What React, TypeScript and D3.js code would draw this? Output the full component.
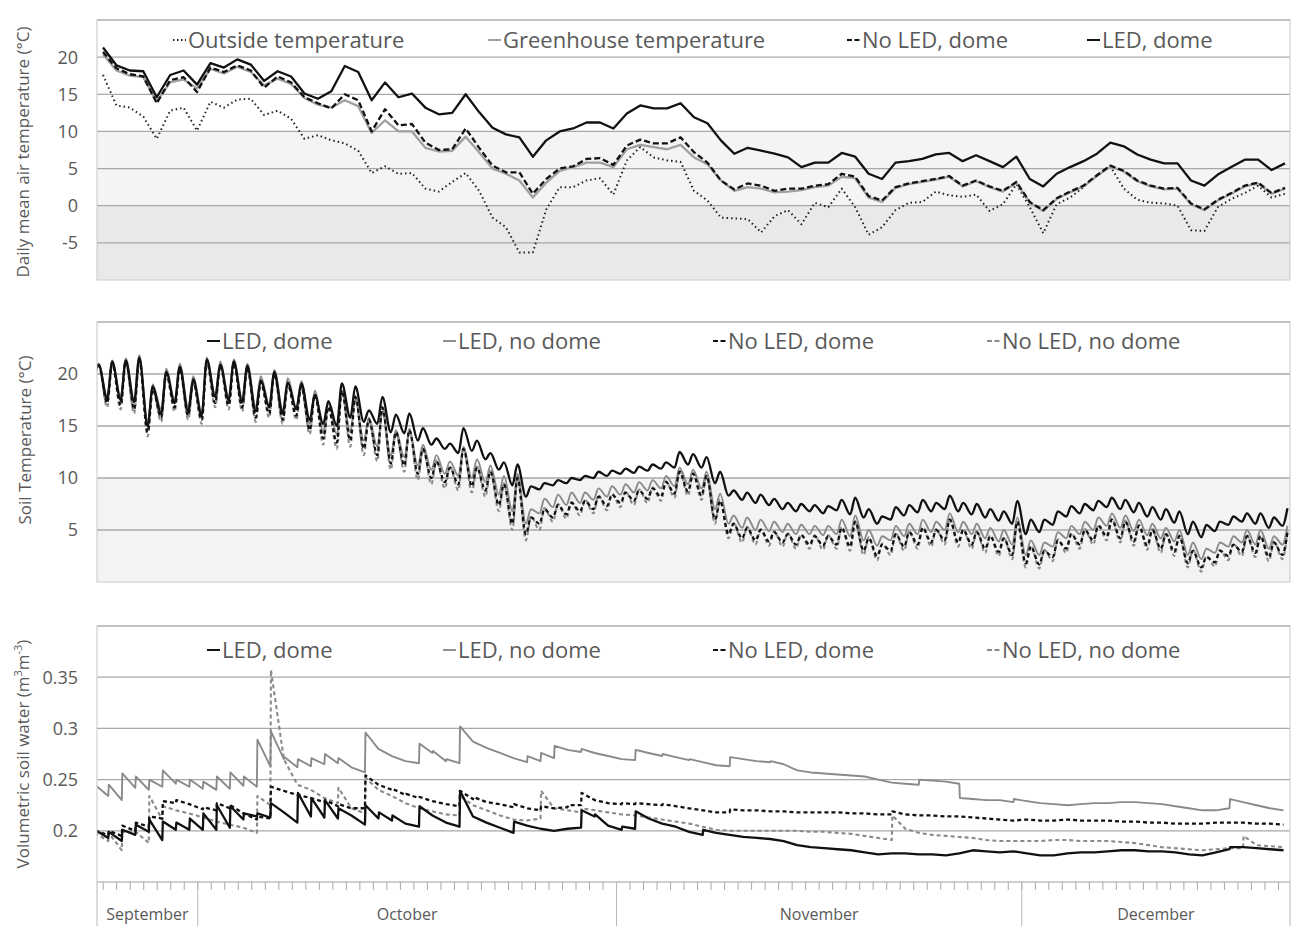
import * as d3 from "d3";

// layout
const W = 1291;
const H = 926;
const LEFT = 97;
const RIGHT = 1290;
const AIR = { top: 20, bottom: 280 };
const SOIL = { top: 322, bottom: 582 };
const WATER = { top: 626, bottom: 882 };

const FONT = "'Open Sans', 'Noto Sans', sans-serif";
const TEXT = "#595959";
const GRID = "#a8a8a8";
const FRAME = "#c8c8c8";

// ---------- data ----------
const monthNames = ["September", "October", "November", "December"];
const airTicks = [20, 15, 10, 5, 0, -5];
const soilTicks = [20, 15, 10, 5];
const waterTicks = [0.35, 0.3, 0.25, 0.2];

// daily mean air temperature, 24 Sep .. 21 Dec
const outsideTemp = [
  17.6, 13.5, 13.2, 12.0, 9.0, 12.8, 13.2, 10.1, 14.0, 13.2, 14.3, 14.4, 12.2, 12.8, 11.7, 9.0, 9.5, 8.8, 8.4, 7.4,
  4.4, 5.3, 4.3, 4.4, 2.3, 1.9, 3.2, 4.4, 2.0, -1.6, -2.9, -6.3, -6.3, -0.5, 2.5, 2.5, 3.4, 3.7, 1.5, 6.1,
  7.9, 6.5, 6.1, 5.9, 2.0, 0.7, -1.6, -1.7, -1.8, -3.6, -1.4, -0.6, -2.5, 0.4, -0.2, 2.3, -0.2, -3.9, -2.9, -0.6,
  0.4, 0.5, 1.9, 1.4, 1.2, 1.5, -0.7, 0.2, 2.9, -0.2, -3.7, 0.2, 1.1, 2.5, 4.1, 5.3, 2.3, 0.8, 0.4, 0.3,
  0.0, -3.3, -3.4, -0.2, 0.9, 1.7, 2.7, 1.1, 1.6,
];
const greenhouseTemp = [
  20.4, 18.2, 17.5, 17.3, 14.0, 16.6, 17.0, 15.8, 18.4, 17.8, 18.7, 18.0, 16.2, 17.1, 16.4, 14.5, 13.6, 13.2, 14.2, 13.4,
  9.8, 11.5, 10.0, 10.0, 7.8, 7.3, 7.4, 9.3, 7.2, 5.0, 4.3, 3.4, 1.1, 3.1, 4.7, 5.2, 5.8, 5.8, 5.2, 7.6,
  8.2, 7.9, 7.6, 8.2, 6.5, 5.6, 3.4, 2.0, 2.5, 2.3, 1.8, 1.9, 2.1, 2.5, 2.7, 3.9, 3.7, 1.1, 0.5, 2.4,
  2.9, 3.2, 3.5, 3.9, 2.6, 3.3, 2.5, 1.9, 3.1, 0.4, -0.7, 0.9, 1.8, 2.6, 4.0, 5.3, 4.6, 3.3, 2.6, 2.2,
  2.3, 0.2, -0.6, 0.7, 1.6, 2.6, 3.0, 1.6, 2.3,
];
const noLedDomeAir = [
  20.7, 18.5, 17.7, 17.4, 13.8, 16.9, 17.3, 15.3, 18.6, 18.0, 18.9, 18.2, 15.9, 17.4, 16.6, 14.6, 13.8, 13.1, 15.0, 14.2,
  10.0, 13.0, 10.8, 11.0, 8.5, 7.5, 7.6, 10.4, 7.8, 5.4, 4.5, 4.5, 1.6, 3.6, 5.0, 5.3, 6.3, 6.4, 5.5, 8.1,
  8.9, 8.4, 8.4, 9.2, 7.2, 5.8, 3.4, 2.2, 3.0, 2.7, 2.0, 2.3, 2.3, 2.7, 2.9, 4.3, 3.9, 1.3, 0.7, 2.5,
  3.0, 3.3, 3.6, 4.0, 2.7, 3.4, 2.6, 2.0, 3.2, 0.5, -0.6, 1.0, 1.9, 2.7, 4.1, 5.4, 4.7, 3.4, 2.7, 2.3,
  2.4, 0.3, -0.5, 0.8, 1.7, 2.7, 3.1, 1.7, 2.4,
];
const ledDomeAir = [
  21.3, 18.9, 18.2, 18.1, 14.6, 17.6, 18.2, 16.3, 19.2, 18.6, 19.7, 19.0, 16.8, 18.1, 17.4, 15.1, 14.4, 15.4, 18.8, 18.0,
  14.2, 16.6, 14.6, 15.1, 13.2, 12.3, 12.5, 15.0, 12.6, 10.5, 9.6, 9.2, 6.6, 8.8, 10.0, 10.4, 11.2, 11.2, 10.4, 12.4,
  13.5, 13.1, 13.1, 13.8, 11.9, 11.1, 8.8, 7.0, 7.8, 7.4, 7.0, 6.5, 5.2, 5.8, 5.8, 7.1, 6.6, 4.3, 3.6, 5.8,
  6.0, 6.3, 6.9, 7.1, 6.0, 6.8, 6.0, 5.2, 6.6, 3.6, 2.6, 4.3, 5.2, 6.0, 7.0, 8.5, 8.0, 6.9, 6.2, 5.7,
  5.7, 3.4, 2.7, 4.2, 5.2, 6.2, 6.2, 4.8, 5.7,
];

// soil temperature, daily min (morning) and max (afternoon), 23 Sep .. 20 Dec
const ledDomeMax = [
  20.9, 21.2, 21.3, 21.6, 18.8, 20.2, 20.7, 19.5, 21.4, 20.9, 21.2, 20.8, 19.4, 20.2, 19.2, 19.1, 18.0, 17.4, 19.1, 18.8,
  16.5, 17.8, 16.1, 16.2, 14.8, 13.8, 13.3, 14.8, 13.6, 12.4, 11.5, 11.3, 9.2, 9.5, 9.8, 10.0, 10.2, 10.6, 10.7, 10.9,
  11.1, 11.3, 11.5, 12.5, 12.3, 12.0, 10.6, 8.8, 8.6, 8.4, 8.0, 7.6, 7.5, 7.4, 7.3, 7.9, 8.1, 7.0, 6.3, 7.2,
  7.4, 7.9, 7.6, 8.3, 7.6, 7.5, 7.0, 6.8, 7.8, 6.0, 6.0, 6.8, 7.3, 7.5, 7.8, 8.1, 7.9, 7.6, 7.2, 7.0,
  6.8, 5.8, 5.5, 5.8, 6.3, 6.6, 6.6, 6.2, 7.1,
];
const ledDomeMin = [
  19.5, 17.6, 17.5, 17.3, 15.0, 16.2, 17.2, 16.4, 16.0, 17.8, 17.5, 17.3, 16.4, 16.8, 16.2, 16.6, 15.6, 15.2, 15.0, 15.8,
  15.4, 15.2, 14.4, 14.3, 13.6, 13.2, 12.8, 12.4, 12.6, 11.8, 10.8, 9.3, 8.2, 8.9, 9.3, 9.5, 9.8, 10.0, 10.2, 10.4,
  10.5, 10.7, 10.9, 11.0, 11.3, 11.0, 9.5, 8.3, 7.9, 7.6, 7.4, 7.0, 6.8, 6.8, 6.6, 6.9, 6.5, 6.2, 5.6, 6.0,
  6.4, 6.7, 6.8, 7.0, 6.8, 6.5, 6.2, 5.9, 5.6, 4.6, 4.8, 5.5, 6.3, 6.6, 6.9, 7.2, 7.0, 6.7, 6.3, 6.0,
  5.7, 4.6, 4.3, 4.9, 5.5, 5.8, 5.6, 5.2, 5.4,
];
const ledNoDomeMax = [
  21.0, 21.3, 21.5, 21.8, 19.0, 20.5, 21.0, 19.8, 21.6, 21.2, 21.4, 21.0, 19.8, 20.4, 19.6, 19.3, 18.4, 17.2, 18.2, 17.6,
  15.8, 16.4, 14.6, 14.6, 13.2, 12.2, 11.6, 13.0, 11.8, 11.2, 10.2, 10.4, 7.0, 8.0, 8.4, 8.6, 8.6, 9.0, 9.2, 9.4,
  9.6, 9.8, 10.2, 11.0, 10.8, 10.6, 8.5, 6.4, 6.2, 6.0, 5.8, 5.6, 5.5, 5.4, 5.4, 6.0, 6.4, 5.0, 4.4, 5.4,
  5.6, 6.0, 5.8, 6.6, 5.8, 5.6, 5.2, 5.0, 6.2, 4.0, 3.8, 4.8, 5.4, 5.8, 6.2, 6.6, 6.4, 6.0, 5.6, 5.2,
  5.0, 3.8, 3.2, 3.8, 4.4, 5.0, 5.0, 4.4, 5.4,
];
const ledNoDomeMin = [
  19.6, 17.8, 17.8, 17.5, 15.4, 16.6, 17.5, 16.8, 16.3, 18.0, 17.8, 17.6, 16.8, 17.0, 16.5, 16.8, 15.2, 14.4, 14.2, 14.4,
  13.6, 13.0, 12.2, 12.0, 11.2, 10.8, 10.4, 10.2, 10.0, 9.6, 8.4, 6.8, 5.6, 6.6, 7.2, 7.4, 7.6, 7.9, 8.2, 8.4,
  8.6, 8.8, 9.0, 9.2, 9.4, 9.0, 7.0, 5.6, 5.2, 5.0, 4.9, 4.8, 4.6, 4.6, 4.5, 4.6, 4.4, 4.0, 3.5, 4.0,
  4.4, 4.6, 4.8, 5.0, 4.8, 4.6, 4.2, 3.9, 3.6, 2.6, 2.6, 3.4, 4.2, 4.6, 5.0, 5.4, 5.2, 4.9, 4.5, 4.2,
  3.9, 2.6, 2.2, 2.8, 3.4, 3.8, 3.6, 3.2, 3.6,
];
const noLedDomeMax = [
  20.8, 21.0, 21.2, 21.4, 18.5, 20.0, 20.5, 19.2, 21.2, 20.8, 21.0, 20.6, 19.2, 20.0, 19.0, 18.8, 18.0, 16.8, 18.4, 17.8,
  15.6, 16.8, 14.4, 14.6, 12.8, 11.6, 11.0, 12.8, 11.0, 10.6, 9.4, 10.0, 6.2, 7.0, 7.4, 7.6, 7.8, 8.2, 8.4, 8.6,
  8.8, 9.0, 9.6, 10.6, 10.4, 10.2, 7.8, 5.6, 5.2, 5.0, 4.8, 4.6, 4.5, 4.4, 4.4, 5.2, 5.8, 4.2, 3.6, 4.6,
  4.8, 5.2, 5.0, 6.0, 5.0, 4.8, 4.4, 4.2, 5.8, 3.4, 3.0, 4.0, 4.6, 5.0, 5.4, 6.0, 5.8, 5.4, 5.0, 4.6,
  4.4, 3.0, 2.4, 3.0, 3.6, 4.4, 4.4, 3.8, 4.8,
];
const noLedDomeMin = [
  19.4, 17.2, 17.0, 16.6, 14.4, 15.8, 16.8, 16.0, 15.6, 17.2, 17.0, 16.8, 15.8, 16.2, 15.6, 16.0, 14.6, 13.8, 13.4, 13.6,
  12.8, 12.2, 11.4, 11.2, 10.4, 10.0, 9.6, 9.4, 9.2, 8.8, 7.4, 5.6, 4.6, 5.6, 6.2, 6.5, 6.8, 7.0, 7.3, 7.6,
  7.8, 8.0, 8.2, 8.5, 8.7, 8.3, 6.0, 4.6, 4.2, 4.0, 3.9, 3.8, 3.6, 3.6, 3.5, 3.6, 3.4, 3.0, 2.5, 3.0,
  3.4, 3.6, 3.8, 4.0, 3.8, 3.6, 3.2, 2.9, 2.6, 1.8, 1.7, 2.4, 3.2, 3.6, 4.0, 4.4, 4.2, 3.9, 3.5, 3.2,
  2.9, 1.8, 1.4, 1.9, 2.5, 2.9, 2.8, 2.4, 2.6,
];
const noLedNoDomeMax = [
  20.9, 21.1, 21.3, 21.5, 18.6, 20.1, 20.6, 19.3, 21.3, 20.9, 21.1, 20.7, 19.3, 20.1, 19.1, 18.9, 18.1, 16.9, 18.6, 17.9,
  15.7, 16.9, 14.5, 14.7, 12.9, 11.7, 11.1, 12.9, 11.1, 10.7, 9.5, 10.1, 6.3, 7.1, 7.5, 7.7, 7.9, 8.3, 8.5, 8.7,
  8.9, 9.1, 9.7, 10.7, 10.5, 10.3, 7.9, 5.7, 5.3, 5.1, 4.9, 4.7, 4.6, 4.5, 4.5, 5.3, 5.9, 4.3, 3.7, 4.7,
  4.9, 5.3, 5.1, 6.1, 5.1, 4.9, 4.5, 4.3, 5.9, 3.5, 3.1, 4.1, 4.7, 5.1, 5.5, 6.1, 5.9, 5.5, 5.1, 4.7,
  4.5, 3.1, 2.5, 3.1, 3.7, 4.5, 4.5, 3.9, 4.9,
];
const noLedNoDomeMin = [
  19.2, 16.8, 16.6, 16.2, 14.0, 15.4, 16.4, 15.6, 15.2, 16.8, 16.6, 16.4, 15.4, 15.8, 15.2, 15.6, 14.2, 13.2, 12.8, 13.0,
  12.2, 11.6, 10.8, 10.6, 9.8, 9.4, 9.0, 8.8, 8.6, 8.2, 6.8, 5.0, 4.0, 5.0, 5.8, 6.1, 6.4, 6.6, 6.9, 7.2,
  7.4, 7.6, 7.8, 8.1, 8.3, 7.9, 5.6, 4.2, 3.8, 3.6, 3.5, 3.4, 3.2, 3.2, 3.1, 3.2, 3.0, 2.6, 2.1, 2.6,
  3.0, 3.2, 3.4, 3.6, 3.4, 3.2, 2.8, 2.5, 2.2, 1.4, 1.3, 2.0, 2.8, 3.2, 3.6, 4.0, 3.8, 3.5, 3.1, 2.8,
  2.5, 1.4, 1.0, 1.5, 2.1, 2.5, 2.4, 2.0, 2.2,
];

// volumetric soil water: morning level each day (23 Sep .. 20 Dec) and [day, level after watering]
const ledDomeWater = [
  0.201, 0.193, 0.19, 0.196, 0.199, 0.191, 0.201, 0.201, 0.201, 0.201, 0.203, 0.211, 0.214, 0.213, 0.218, 0.208, 0.214, 0.213, 0.212, 0.215,
  0.206, 0.212, 0.21, 0.207, 0.204, 0.215, 0.208, 0.204, 0.214, 0.208, 0.203, 0.198, 0.205, 0.202, 0.2, 0.202, 0.203, 0.214, 0.205, 0.201,
  0.202, 0.212, 0.207, 0.204, 0.199, 0.196, 0.198, 0.196, 0.194, 0.193, 0.192, 0.19, 0.186, 0.184, 0.183, 0.182, 0.181, 0.179, 0.177, 0.178,
  0.178, 0.177, 0.177, 0.176, 0.178, 0.181, 0.18, 0.179, 0.18, 0.178, 0.176, 0.176, 0.178, 0.179, 0.179, 0.18, 0.181, 0.181, 0.18, 0.18,
  0.179, 0.177, 0.176, 0.179, 0.182, 0.184, 0.183, 0.182, 0.181,
];
const ledDomeWatering: [number, number][] = [
  [1, 0.199], [2, 0.201], [3, 0.206], [4, 0.211], [5, 0.209], [6, 0.208], [7, 0.212], [8, 0.217], [9, 0.225], [10, 0.224],
  [11, 0.217], [12, 0.217], [13, 0.227], [15, 0.237], [16, 0.232], [17, 0.23], [18, 0.222], [20, 0.225], [21, 0.218], [22, 0.215],
  [24, 0.224], [27, 0.239], [31, 0.209], [36, 0.22], [37, 0.216], [39, 0.204], [40, 0.219], [45, 0.201], [84, 0.184],
];
const ledNoDomeWater = [
  0.245, 0.234, 0.23, 0.242, 0.24, 0.243, 0.246, 0.243, 0.241, 0.24, 0.241, 0.244, 0.243, 0.263, 0.27, 0.262, 0.263, 0.265, 0.266, 0.262,
  0.257, 0.28, 0.273, 0.268, 0.266, 0.276, 0.268, 0.266, 0.287, 0.281, 0.276, 0.271, 0.267, 0.268, 0.271, 0.279, 0.277, 0.276, 0.273, 0.27,
  0.269, 0.276, 0.273, 0.272, 0.269, 0.267, 0.264, 0.263, 0.27, 0.268, 0.267, 0.265, 0.259, 0.257, 0.256, 0.255, 0.254, 0.253, 0.25, 0.247,
  0.246, 0.245, 0.249, 0.248, 0.246, 0.231, 0.23, 0.23, 0.228, 0.229, 0.227, 0.226, 0.225, 0.226, 0.227, 0.227, 0.228, 0.228, 0.227, 0.226,
  0.224, 0.222, 0.22, 0.22, 0.222, 0.228, 0.225, 0.222, 0.22,
];
const ledNoDomeWatering: [number, number][] = [
  [1, 0.245], [2, 0.256], [3, 0.253], [4, 0.25], [5, 0.259], [6, 0.25], [7, 0.25], [8, 0.248], [9, 0.253], [10, 0.257],
  [11, 0.253], [12, 0.289], [13, 0.297], [14, 0.272], [15, 0.27], [16, 0.271], [17, 0.275], [18, 0.271], [20, 0.296], [24, 0.285],
  [25, 0.278], [26, 0.27], [27, 0.302], [32, 0.273], [33, 0.276], [34, 0.283], [36, 0.28], [40, 0.279], [42, 0.275], [44, 0.27],
  [47, 0.272], [50, 0.268], [61, 0.25], [64, 0.232], [68, 0.231], [84, 0.231],
];
const noLedDomeWater = [
  0.2, 0.196, 0.195, 0.2, 0.204, 0.212, 0.227, 0.226, 0.221, 0.22, 0.222, 0.217, 0.211, 0.212, 0.239, 0.235, 0.232, 0.228, 0.224, 0.222,
  0.222, 0.245, 0.24, 0.235, 0.232, 0.229, 0.226, 0.224, 0.231, 0.228, 0.226, 0.223, 0.222, 0.22, 0.222, 0.223, 0.225, 0.23, 0.227, 0.226,
  0.226, 0.226, 0.225, 0.224, 0.222, 0.22, 0.218, 0.218, 0.22, 0.22, 0.219, 0.219, 0.218, 0.218, 0.218, 0.218, 0.217, 0.217, 0.216, 0.216,
  0.216, 0.215, 0.215, 0.214, 0.214, 0.213, 0.212, 0.211, 0.21, 0.211, 0.21, 0.21, 0.211, 0.21, 0.21, 0.21, 0.209, 0.209, 0.208, 0.208,
  0.207, 0.207, 0.207, 0.208, 0.208, 0.208, 0.207, 0.207, 0.206,
];
const noLedDomeWatering: [number, number][] = [
  [1, 0.2], [2, 0.205], [3, 0.208], [4, 0.214], [5, 0.229], [6, 0.23], [8, 0.223], [9, 0.227], [10, 0.225], [12, 0.214],
  [13, 0.243], [17, 0.23], [18, 0.226], [20, 0.254], [22, 0.241], [23, 0.236], [24, 0.233], [27, 0.239], [28, 0.233], [31, 0.226],
  [33, 0.224], [35, 0.225], [36, 0.237], [39, 0.227], [40, 0.227], [42, 0.226], [47, 0.221], [59, 0.219],
];
const noLedNoDomeWater = [
  0.198, 0.19, 0.181, 0.198, 0.188, 0.211, 0.22, 0.217, 0.213, 0.209, 0.206, 0.203, 0.198, 0.225, 0.27, 0.245, 0.24, 0.232, 0.227, 0.222,
  0.217, 0.24, 0.234, 0.227, 0.222, 0.219, 0.216, 0.215, 0.225, 0.22, 0.215, 0.211, 0.21, 0.212, 0.222, 0.22, 0.218, 0.22, 0.218, 0.216,
  0.215, 0.213, 0.211, 0.209, 0.207, 0.204, 0.201, 0.2, 0.2, 0.2, 0.2, 0.2, 0.2, 0.199, 0.199, 0.198, 0.197, 0.195, 0.193, 0.191,
  0.202, 0.198, 0.196, 0.195, 0.194, 0.193, 0.191, 0.19, 0.19, 0.19, 0.19, 0.191, 0.191, 0.19, 0.19, 0.19, 0.189, 0.188, 0.186, 0.184,
  0.183, 0.182, 0.181, 0.182, 0.183, 0.183, 0.186, 0.185, 0.184,
];
const noLedNoDomeWatering: [number, number][] = [
  [1, 0.198], [2, 0.199], [3, 0.199], [4, 0.234], [5, 0.224], [12, 0.234], [13, 0.357], [18, 0.242], [20, 0.252], [27, 0.234],
  [33, 0.239], [36, 0.222], [59, 0.215], [85, 0.195],
];

// ---------- scales ----------
const day0 = new Date(2021, 8, 23);
const airStart = new Date(2021, 8, 24);
const x = d3
  .scaleTime()
  .domain([new Date(2021, 8, 23, 13), new Date(2021, 11, 20, 20, 30)])
  .range([LEFT, RIGHT]);
const xAir = d3
  .scaleTime()
  .domain([airStart, d3.timeDay.offset(airStart, 88)])
  .range([103, 1285]);
const yAir = d3.scaleLinear().domain([-10, 25]).range([AIR.bottom, AIR.top]);
const ySoil = d3.scaleLinear().domain([0, 25]).range([SOIL.bottom, SOIL.top]);
const yWater = d3.scaleLinear().domain([0.15, 0.4]).range([WATER.bottom, WATER.top]);

type Pt = [Date, number];

const airPoints = (vals: number[]): Pt[] => vals.map((v, i) => [d3.timeDay.offset(airStart, i), v]);

const soilPoints = (mins: number[], maxs: number[]): Pt[] => {
  const pts: Pt[] = [];
  mins.forEach((v, k) => {
    const d = d3.timeDay.offset(day0, k);
    pts.push([d3.timeHour.offset(d, 7), v]);
    pts.push([d3.timeHour.offset(d, 16), maxs[k]]);
  });
  return pts;
};

const waterPoints = (levels: number[], watering: [number, number][]): Pt[] => {
  const jumps = new Map(watering);
  const pts: Pt[] = [];
  levels.forEach((v, k) => {
    const d = d3.timeDay.offset(day0, k);
    pts.push([d3.timeHour.offset(d, 9), v]);
    if (jumps.has(k)) pts.push([d3.timeHour.offset(d, 10), jumps.get(k) as number]);
  });
  return pts;
};

const lineAir = d3
  .line<Pt>()
  .x((d) => xAir(d[0]))
  .y((d) => yAir(d[1]));
const lineSoil = d3
  .line<Pt>()
  .x((d) => x(d[0]))
  .y((d) => ySoil(d[1]))
  .curve(d3.curveMonotoneX);
const lineWater = d3
  .line<Pt>()
  .x((d) => x(d[0]))
  .y((d) => yWater(d[1]));

type Style = { stroke: string; width: number; dash?: string; key?: string };
const S_BLACK: Style = { stroke: "#111", width: 2.3 };
const S_GRAY: Style = { stroke: "#8a8a8a", width: 1.9 };
const S_DASH: Style = { stroke: "#111", width: 2.3, dash: "4 3", key: "5 2.5" };
const S_GDASH: Style = { stroke: "#8a8a8a", width: 2.1, dash: "4 3", key: "5 2.5" };
const S_DOT: Style = { stroke: "#222", width: 2, dash: "1.5 3", key: "1.5 2.5" };
const S_GREEN: Style = { stroke: "#a0a0a0", width: 2.3 };
const S_AIRDASH: Style = { stroke: "#111", width: 2.3, dash: "6 3", key: "5 2.5" };

function Legend({ y, items }: { y: number; items: { x: number; label: string; style: Style }[] }) {
  return (
    <g>
      {items.map((it) => (
        <g key={it.label}>
          <line
            x1={it.x}
            x2={it.x + 13}
            y1={y}
            y2={y}
            stroke={it.style.stroke}
            strokeWidth={Math.min(it.style.width, 2)}
            strokeDasharray={it.style.key}
          />
          <text x={it.x + 15} y={y + 8} fontSize={22} fill={TEXT} fontFamily={FONT}>
            {it.label}
          </text>
        </g>
      ))}
    </g>
  );
}

function Grid({ ticks, y, fmt }: { ticks: number[]; y: (v: number) => number; fmt: (v: number) => string }) {
  return (
    <g>
      {ticks.map((t) => (
        <g key={t}>
          <line x1={LEFT} x2={RIGHT} y1={y(t)} y2={y(t)} stroke={GRID} strokeWidth={1.3} />
          <text x={78} y={y(t)} dy="0.36em" textAnchor="end" fontSize={18} fill={TEXT} fontFamily={FONT}>
            {fmt(t)}
          </text>
        </g>
      ))}
    </g>
  );
}

function Path({ d, style }: { d: string | null; style: Style }) {
  return (
    <path
      d={d || ""}
      fill="none"
      stroke={style.stroke}
      strokeWidth={style.width}
      strokeDasharray={style.dash}
      strokeLinejoin="round"
    />
  );
}

export default function App() {
  const soilLegend = [
    { x: 207, label: "LED, dome", style: S_BLACK },
    { x: 443, label: "LED, no dome", style: S_GRAY },
    { x: 713, label: "No LED, dome", style: S_DASH },
    { x: 987, label: "No LED, no dome", style: S_GDASH },
  ];
  const monthStarts = [x.domain()[0], ...d3.timeMonth.range(x.domain()[0], x.domain()[1]), x.domain()[1]];
  const dayTicks = x.ticks(d3.timeDay.every(1) as d3.TimeInterval);

  return (
    <svg
      width={W}
      height={H}
      style={{ position: "absolute", left: 0, top: 0, background: "#fff" }}
      fontFamily={FONT}
    >
      <defs>
        <clipPath id="plot-clip">
          <rect x={LEFT} y={0} width={RIGHT - LEFT} height={H} />
        </clipPath>
      </defs>

      {/* panel 1: air temperature */}
      <rect x={LEFT} y={yAir(10)} width={RIGHT - LEFT} height={yAir(0) - yAir(10)} fill="#f4f4f4" />
      <rect x={LEFT} y={yAir(0)} width={RIGHT - LEFT} height={yAir(-10) - yAir(0)} fill="#e9e9e9" />
      <Grid ticks={airTicks} y={yAir} fmt={(v) => String(v)} />
      <line x1={LEFT} x2={RIGHT} y1={yAir(25)} y2={yAir(25)} stroke={GRID} strokeWidth={1.3} />
      <Path d={lineAir(airPoints(outsideTemp))} style={S_DOT} />
      <Path d={lineAir(airPoints(greenhouseTemp))} style={S_GREEN} />
      <Path d={lineAir(airPoints(noLedDomeAir))} style={S_AIRDASH} />
      <Path d={lineAir(airPoints(ledDomeAir))} style={S_BLACK} />
      <rect x={LEFT} y={AIR.top} width={RIGHT - LEFT} height={AIR.bottom - AIR.top} fill="none" stroke={FRAME} />
      <Legend
        y={40}
        items={[
          { x: 173, label: "Outside temperature", style: S_DOT },
          { x: 488, label: "Greenhouse temperature", style: S_GREEN },
          { x: 847, label: "No LED, dome", style: S_AIRDASH },
          { x: 1087, label: "LED, dome", style: S_BLACK },
        ]}
      />
      <text
        transform={`translate(29,${(AIR.top + AIR.bottom) / 2 + 2}) rotate(-90)`}
        textAnchor="middle"
        fontSize={17}
        fill={TEXT}
      >
        Daily mean air temperature (°C)
      </text>

      {/* panel 2: soil temperature */}
      <rect x={LEFT} y={ySoil(10)} width={RIGHT - LEFT} height={ySoil(0) - ySoil(10)} fill="#f3f3f3" />
      <Grid ticks={soilTicks} y={ySoil} fmt={(v) => String(v)} />
      <line x1={LEFT} x2={RIGHT} y1={ySoil(25)} y2={ySoil(25)} stroke={GRID} strokeWidth={1.3} />
      <g clipPath="url(#plot-clip)">
        <Path d={lineSoil(soilPoints(ledNoDomeMin, ledNoDomeMax))} style={S_GRAY} />
        <Path d={lineSoil(soilPoints(noLedNoDomeMin, noLedNoDomeMax))} style={S_GDASH} />
        <Path d={lineSoil(soilPoints(noLedDomeMin, noLedDomeMax))} style={S_DASH} />
        <Path d={lineSoil(soilPoints(ledDomeMin, ledDomeMax))} style={S_BLACK} />
      </g>
      <rect x={LEFT} y={SOIL.top} width={RIGHT - LEFT} height={SOIL.bottom - SOIL.top} fill="none" stroke={FRAME} />
      <Legend y={341} items={soilLegend} />
      <text
        transform={`translate(31,${(SOIL.top + SOIL.bottom) / 2 - 12}) rotate(-90)`}
        textAnchor="middle"
        fontSize={17}
        fill={TEXT}
      >
        Soil Temperature (°C)
      </text>

      {/* panel 3: soil water */}
      <Grid ticks={waterTicks} y={yWater} fmt={(v) => String(v)} />
      <line x1={LEFT} x2={RIGHT} y1={yWater(0.4)} y2={yWater(0.4)} stroke={GRID} strokeWidth={1.3} />
      <g clipPath="url(#plot-clip)">
        <Path d={lineWater(waterPoints(ledNoDomeWater, ledNoDomeWatering))} style={S_GRAY} />
        <Path d={lineWater(waterPoints(noLedNoDomeWater, noLedNoDomeWatering))} style={S_GDASH} />
        <Path d={lineWater(waterPoints(noLedDomeWater, noLedDomeWatering))} style={S_DASH} />
        <Path d={lineWater(waterPoints(ledDomeWater, ledDomeWatering))} style={S_BLACK} />
      </g>
      <rect x={LEFT} y={WATER.top} width={RIGHT - LEFT} height={WATER.bottom - WATER.top} fill="none" stroke={FRAME} />
      <Legend y={650} items={soilLegend} />
      <text
        transform={`translate(29,${(WATER.top + WATER.bottom) / 2}) rotate(-90)`}
        textAnchor="middle"
        fontSize={17}
        fill={TEXT}
      >
        Volumetric soil water (m
        <tspan baselineShift="super" fontSize={11}>3</tspan>
        m
        <tspan baselineShift="super" fontSize={11}>-3</tspan>)
      </text>

      {/* x axis */}
      <g>
        <line x1={LEFT} x2={RIGHT} y1={WATER.bottom} y2={WATER.bottom} stroke={FRAME} strokeWidth={1.3} />
        {dayTicks.map((d) => (
          <line key={+d} x1={x(d)} x2={x(d)} y1={WATER.bottom} y2={WATER.bottom + 8} stroke="#a8a8a8" />
        ))}
        {monthStarts.map((d) => (
          <line key={"m" + +d} x1={x(d)} x2={x(d)} y1={WATER.bottom} y2={H} stroke="#b8b8b8" />
        ))}
        {monthNames.map((name, i) => (
          <text
            key={name}
            x={(x(monthStarts[i]) + x(monthStarts[i + 1])) / 2}
            y={920}
            textAnchor="middle"
            fontSize={16}
            fill={TEXT}
          >
            {name}
          </text>
        ))}
      </g>
    </svg>
  );
}
